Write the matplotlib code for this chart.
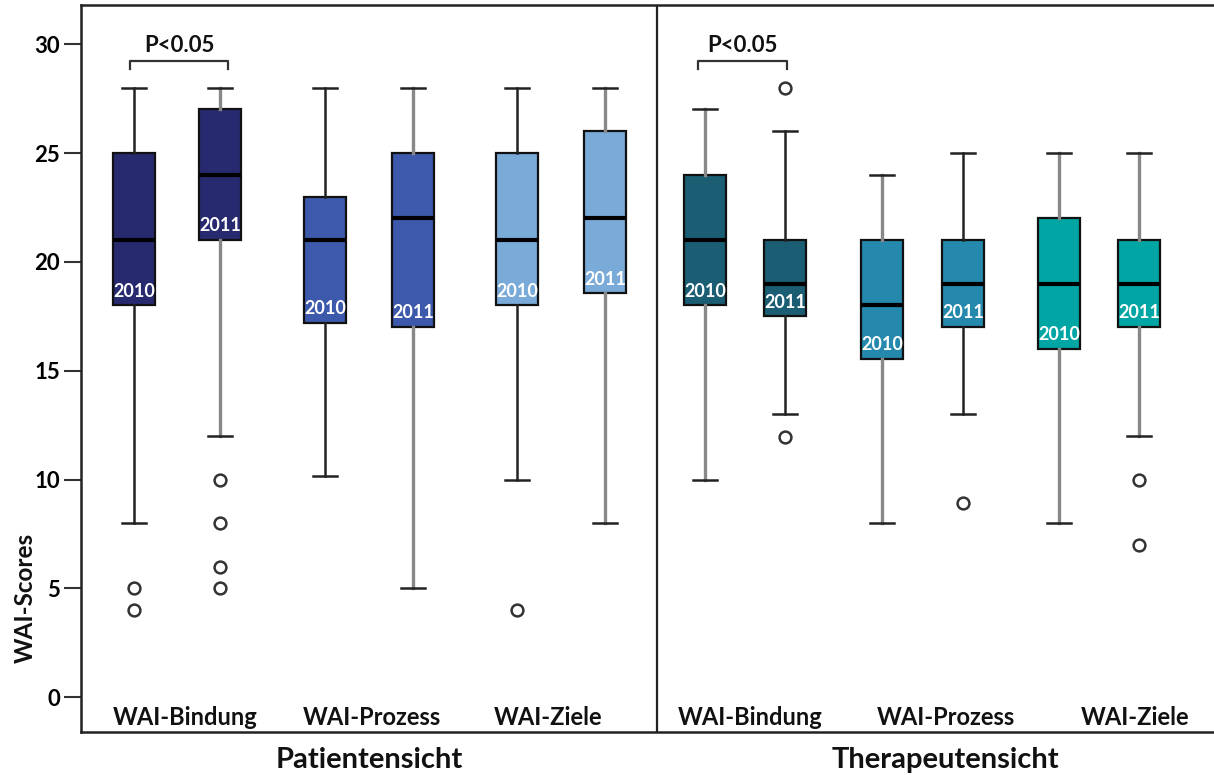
import matplotlib
matplotlib.use("Agg")
import matplotlib.pyplot as plt

plt.rcParams['font.family'] = ['Lato', 'DejaVu Sans']

# WAI scores, 2010 vs 2011, patient view and therapist view
scales = ["WAI-Bindung", "WAI-Prozess", "WAI-Ziele"]
years = ["2010", "2011"]
views = ["Patientensicht", "Therapeutensicht"]

# five-number summaries per box: whislo, q1, med, q3, whishi
pat_whislo = [8, 12, 10.15, 5, 10, 8]
pat_q1 = [18, 21, 17.2, 17, 18, 18.55]
pat_med = [21, 24, 21, 22, 21, 22]
pat_q3 = [25, 27, 23, 25, 25, 26]
pat_whishi = [28, 28, 28, 28, 28, 28]
pat_fliers = [[5, 4], [10, 8, 6, 5], [], [], [4], []]

ther_whislo = [10, 13, 8, 13, 8, 12]
ther_q1 = [18, 17.5, 15.55, 17, 16, 17]
ther_med = [21, 19, 18, 19, 19, 19]
ther_q3 = [24, 21, 21, 21, 22, 21]
ther_whishi = [27, 26, 24, 25, 25, 25]
ther_fliers = [[], [28, 11.95], [], [8.9], [], [10, 7]]

# layout (x in pixel-like units)
pat_pos = [134, 220, 325, 413, 517, 605]
ther_pos = [705, 785, 882, 963, 1059, 1139]
pat_colors = ["#272a6f", "#272a6f", "#3d59ab", "#3d59ab", "#7aaad8", "#7aaad8"]
ther_colors = ["#1b5e74", "#1b5e74", "#2489ad", "#2489ad", "#00a6a4", "#00a6a4"]
pat_wcol = ["#222222", "#888888", "#222222", "#888888", "#222222", "#888888"]
ther_wcol = ["#888888", "#222222", "#888888", "#222222", "#888888", "#888888"]
pat_label_x = [185, 372, 548]
ther_label_x = [750, 946, 1135]

fig = plt.figure(figsize=(12.14, 7.75), dpi=100)
ax = fig.add_axes([81 / 1214, 43 / 775, 1 - 81 / 1214, (732 - 5) / 775])


def draw_panel(whislo, q1, med, q3, whishi, fliers, pos, colors, wcols):
    for i in range(len(pos)):
        st = dict(whislo=whislo[i], q1=q1[i], med=med[i], q3=q3[i],
                  whishi=whishi[i], fliers=fliers[i])
        wlw = 1.8 if wcols[i] == "#222222" else 2.4
        ax.bxp([st], positions=[pos[i]], widths=42, capwidths=24,
               patch_artist=True, manage_ticks=False,
               boxprops=dict(facecolor=colors[i], edgecolor="#111111", linewidth=1.6),
               medianprops=dict(color="black", linewidth=3),
               whiskerprops=dict(color=wcols[i], linewidth=wlw),
               capprops=dict(color="#222222", linewidth=1.8),
               flierprops=dict(marker="o", markersize=8.5, markerfacecolor="white",
                               markeredgecolor="#333333", markeredgewidth=1.8))
        ax.text(pos[i], q1[i] + 0.65, years[i % 2], color="white", fontsize=13,
                fontweight="bold", ha="center", va="center")


draw_panel(pat_whislo, pat_q1, pat_med, pat_q3, pat_whishi, pat_fliers,
           pat_pos, pat_colors, pat_wcol)
draw_panel(ther_whislo, ther_q1, ther_med, ther_q3, ther_whishi, ther_fliers,
           ther_pos, ther_colors, ther_wcol)

ax.set_xlim(81, 1214)
ax.set_ylim(-1.6, 31.8)

# divider between the two views
ax.axvline(657, color="#222222", linewidth=1.6)

# significance brackets
for x0, x1 in [(pat_pos[0] - 4, pat_pos[1] + 8), (ther_pos[0] - 7, ther_pos[1] + 2)]:
    ax.plot([x0, x0, x1, x1], [28.85, 29.25, 29.25, 28.85], color="#333333",
            linewidth=1.6)
    ax.text((x0 + x1) / 2, 29.95, "P<0.05", fontsize=16, fontweight="bold",
            ha="center", va="center", color="#111111")

for x, s in zip(pat_label_x + ther_label_x, scales + scales):
    ax.text(x, -0.95, s, fontsize=17, fontweight="bold", ha="center",
            va="center", color="#111111")

for x, s in zip([369, 945], views):
    fig.text(x / 1214, 1 - 760 / 775, s, fontsize=21, fontweight="bold",
             ha="center", va="center", color="#111111")

fig.text(25 / 1214, 1 - 598 / 775, "WAI-Scores", rotation=90, fontsize=17.5,
         fontweight="bold", ha="center", va="center", color="#111111")

ax.set_yticks([0, 5, 10, 15, 20, 25, 30])
ax.set_xticks([])
ax.tick_params(axis="y", length=12, width=1.5, color="#333333", labelsize=16, pad=3)
for lab in ax.get_yticklabels():
    lab.set_fontweight("bold")

for side in ["left", "top", "bottom"]:
    ax.spines[side].set_color("#222222")
    ax.spines[side].set_linewidth(1.8)
ax.spines["right"].set_visible(False)

fig.savefig("out.png", dpi=100)
